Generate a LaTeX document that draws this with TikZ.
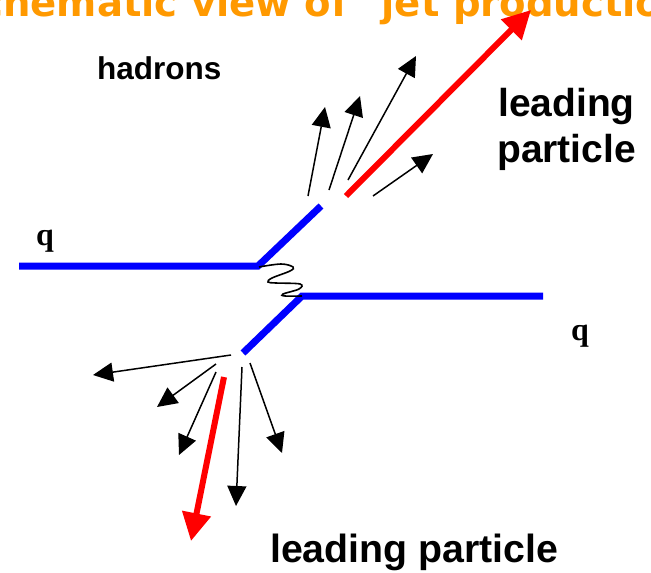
\documentclass[tikz,border=0pt]{standalone}
\usepackage{fontspec}
\setmainfont{Liberation Sans}
\newfontfamily\qfont{Liberation Serif}
\newfontfamily\titlefont{DejaVu Sans}
\usetikzlibrary{arrows.meta}
\definecolor{qblue}{RGB}{0,0,255}
\definecolor{titleorange}{RGB}{255,153,0}
\begin{document}
\begin{tikzpicture}[x=1pt,y=-1pt,
  quark/.style={qblue,line width=7pt},
  had/.style={black,line width=1.5pt,-{Triangle[length=20pt,width=19pt]}},
  lead/.style={red,line width=6pt,-{Triangle[length=28pt,width=28pt]}},
  lbl/.style={inner sep=0pt,anchor=base west,font=\bfseries\fontsize{39}{46}\selectfont},
  qlbl/.style={inner sep=0pt,anchor=base west,font=\qfont\bfseries\fontsize{32}{32}\selectfont},
  gluon/.style={black,line width=1.6pt},
]
\useasboundingbox (0,0) rectangle (651,573);
% title (cut by the top edge, as in the reference)
\node[inner sep=0pt,anchor=base west,text=titleorange,font=\titlefont\bfseries\fontsize{38.6}{40}\selectfont] (title) at (-47.6,16.5) {Schematic view of "jet production"};
% quark lines
\coordinate (qin) at (19,266);
\coordinate (k1) at (258,266);
\coordinate (j1) at (321,206);
\coordinate (j2) at (243,353);
\coordinate (k2) at (302,296);
\coordinate (qout) at (543,296);
\draw[quark] (qin) -- (k1) -- (j1);
\draw[quark] (j2) -- (k2) -- (qout);
% exchanged gluon
\draw[gluon] plot[smooth,tension=0.6] coordinates {(259,267) (281,264) (293,267) (290,271) (272,278) (268,282) (276,283) (300,284) (299,289) (283,294) (285,296) (302,296)};
% upper jet
\coordinate (u1s) at (308,196); \coordinate (u1e) at (325,107);
\coordinate (u2s) at (329,190); \coordinate (u2e) at (360,96);
\coordinate (u3s) at (348,180); \coordinate (u3e) at (416,56);
\coordinate (u4s) at (373,196); \coordinate (u4e) at (433,154);
\coordinate (urs) at (346,196); \coordinate (ure) at (531,10);
\draw[had] (u1s) -- (u1e);
\draw[had] (u2s) -- (u2e);
\draw[had] (u3s) -- (u3e);
\draw[had] (u4s) -- (u4e);
\draw[lead] (urs) -- (ure);
% lower jet
\coordinate (l1s) at (231,355); \coordinate (l1e) at (93,375);
\coordinate (l2s) at (216,364); \coordinate (l2e) at (157,407);
\coordinate (l3s) at (216,372); \coordinate (l3e) at (179,455);
\coordinate (l4s) at (242,367); \coordinate (l4e) at (236,506);
\coordinate (l5s) at (250,363); \coordinate (l5e) at (282,453);
\coordinate (lrs) at (224,377); \coordinate (lre) at (191,541);
\draw[had] (l1s) -- (l1e);
\draw[had] (l2s) -- (l2e);
\draw[had] (l3s) -- (l3e);
\draw[had] (l4s) -- (l4e);
\draw[had] (l5s) -- (l5e);
\draw[lead] (lrs) -- (lre);
% labels
\node[lbl,font=\bfseries\fontsize{31.5}{36}\selectfont] (hadrons) at (97,79.5) {hadrons};
\node[lbl] (lead1) at (498,116.5) {leading};
\node[lbl] (lead2) at (497,162) {particle};
\node[lbl,font=\bfseries\fontsize{39.3}{46}\selectfont] (lead3) at (270,562.5) {leading particle};
\node[qlbl] (q1) at (36,245) {q};
\node[qlbl] (q2) at (571,340) {q};
\end{tikzpicture}
\end{document}
